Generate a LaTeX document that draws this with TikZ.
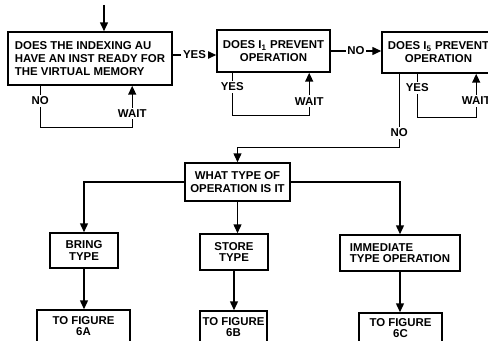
\documentclass[tikz,border=0pt]{standalone}
\usepackage{fontspec}
\setmainfont{Liberation Sans}
\usepackage{tikz}
\usetikzlibrary{arrows.meta}

\begin{document}
\begin{tikzpicture}[x=0.02cm, y=-0.02cm,
    font=\bfseries\fontsize{6.5}{7.4}\selectfont,
    box/.style={draw, line width=0.9pt, inner sep=1pt, align=center},
    lbl/.style={fill=white, inner sep=1pt},
    arr/.style={line width=0.7pt, -{Triangle[length=5pt, width=4.5pt]}}]
    \useasboundingbox (0,0) rectangle (488,341);
    \clip (0,0) rectangle (488,341);

    % Decision boxes
    \node[box, align=left, minimum width=3.28cm, minimum height=1.06cm] (index) at (90,58.5)
        {DOES THE INDEXING AU\\HAVE AN INST READY FOR\\THE VIRTUAL MEMORY};
    \node[box, minimum width=2.26cm, minimum height=0.84cm] (prevent1) at (273.5,51)
        {DOES I\textsubscript{1} PREVENT\\OPERATION};
    \node[box, minimum width=2.26cm, minimum height=0.82cm] (prevent5) at (438.5,52.5)
        {DOES I\textsubscript{5} PREVENT\\OPERATION};
    \node[box, minimum width=2.1cm, minimum height=0.76cm] (optype) at (237.5,182)
        {WHAT TYPE OF\\OPERATION IS IT};

    % Operation types
    \node[box, minimum width=1.36cm, minimum height=0.7cm] (bring) at (84,250.5) {BRING\\[-1pt]TYPE};
    \node[box, minimum width=1.36cm, minimum height=0.72cm] (store) at (234,252) {STORE\\[-1pt]TYPE};
    \node[box, align=left, minimum width=2.4cm, minimum height=0.72cm] (immed) at (400,253)
        {IMMEDIATE\\[-1pt]TYPE OPERATION};

    % Figure references
    \node[box, minimum width=1.86cm, minimum height=0.64cm] (fig6a) at (83.5,326) {TO FIGURE\\[-1.5pt]6A};
    \node[box, minimum width=1.34cm, minimum height=0.64cm] (fig6b) at (233.5,327) {TO FIGURE\\[-1.5pt]6B};
    \node[box, minimum width=1.66cm, minimum height=0.6cm] (fig6c) at (400.5,328) {TO FIGURE\\[-1.5pt]6C};

    % Main flow
    \coordinate (entry) at (104,5);
    \draw[arr] (entry) -- (entry |- index.north);
    \draw[arr] ([yshift=0.07cm]index.east) -- node[lbl] {YES} ([yshift=0.07cm]index.east -| prevent1.west);
    \draw[arr] (prevent1.east) -- node[lbl] {NO} (prevent1.east -| prevent5.west);

    % Wait loops
    \draw[arr] ([xshift=0.66cm]index.south west) -- node[lbl, pos=0.36] {NO} ++(0,42)
        -| node[lbl, pos=0.67] {WAIT} ([xshift=2.5cm]index.south west);
    \draw[arr] ([xshift=0.32cm]prevent1.south west) -- node[lbl, pos=0.33] {YES} ++(0,43)
        -| node[lbl, pos=0.67] {WAIT} ([xshift=1.86cm]prevent1.south west);
    \draw[arr] ([xshift=0.72cm]prevent5.south west) -- node[lbl, pos=0.32] {YES} ++(0,44)
        -| node[lbl, pos=0.69] {WAIT} ([xshift=1.9cm]prevent5.south west);

    % Type dispatch
    \draw[arr] ([xshift=0.36cm]prevent5.south west) -- node[lbl, pos=0.8] {NO} ++(0,74) -| (optype.north);
    \draw[arr] (optype.west) -| (bring.north);
    \draw[arr] (optype.south) -- (optype.south |- store.north);
    \draw[arr] (optype.east) -| (immed.north);
    \draw[arr] (bring.south) -- (bring.south |- fig6a.north);
    \draw[arr] (store.south) -- (store.south |- fig6b.north);
    \draw[arr] (immed.south) -- (immed.south |- fig6c.north);
\end{tikzpicture}
\end{document}
